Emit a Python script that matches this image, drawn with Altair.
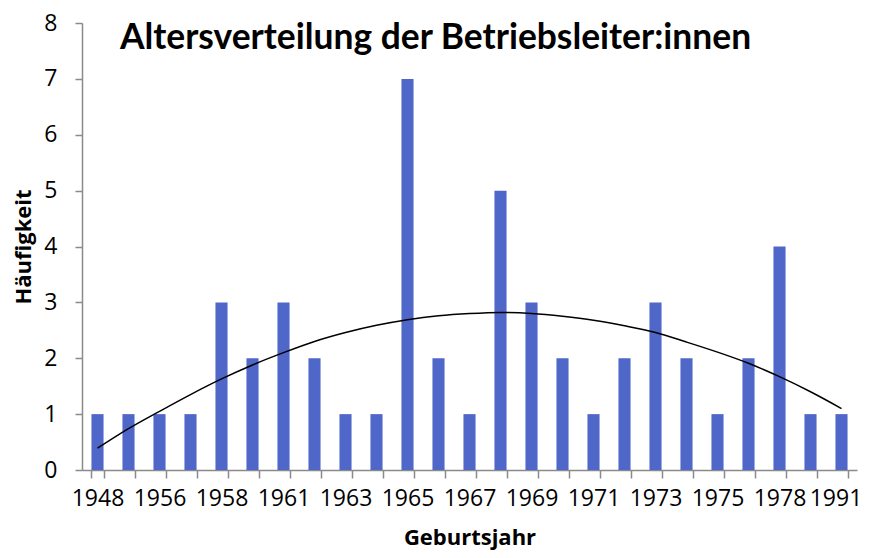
import altair as alt
import pandas as pd

years = ["1948", "1955", "1956", "1957", "1958", "1960", "1961", "1962", "1963",
         "1964", "1965", "1966", "1967", "1968", "1969", "1970", "1971", "1972",
         "1973", "1974", "1975", "1976", "1978", "1979", "1991"]
counts = [1, 1, 1, 1, 3, 2, 3, 2, 1, 1, 7, 2, 1, 5, 3, 2, 1, 2, 3, 2, 1, 2, 4, 1, 1]
trend = [0.39, 0.74, 1.05, 1.35, 1.63, 1.88, 2.10, 2.30, 2.46, 2.59, 2.69, 2.76,
         2.80, 2.82, 2.80, 2.75, 2.68, 2.58, 2.46, 2.29, 2.11, 1.91, 1.67, 1.40, 1.10]
shown_labels = ["1948", "1956", "1958", "1961", "1963", "1965", "1967", "1969",
                "1971", "1973", "1975", "1978", "1991"]
y_ticks = [0, 1, 2, 3, 4, 5, 6, 7, 8]

df = pd.DataFrame({"year": years, "count": counts, "trend": trend})

label_expr = ("indexof([" + ",".join("'%s'" % s for s in shown_labels)
              + "], datum.value) >= 0 ? datum.label : ''")

x_enc = alt.X(
    "year:N",
    sort=years,
    scale=alt.Scale(paddingInner=0.61, paddingOuter=0.305),
    title="Geburtsjahr",
    axis=alt.Axis(tickBand="extent", labelExpr=label_expr, labelAngle=0,
                  labelOverlap=False, tickSize=8, labelPadding=9,
                  labelOffset={"condition": {"test": "datum.value == '%s'" % years[-1],
                                             "value": -6},
                               "value": 0},
                  titlePadding=17),
)
y_scale = alt.Scale(domain=[0, 8])
y_axis = alt.Axis(values=y_ticks, tickSize=7, labelPadding=18, titlePadding=8)

bars = alt.Chart(df).mark_bar(color="#4F67C8").encode(
    x=x_enc,
    y=alt.Y("count:Q", scale=y_scale, axis=y_axis, title="Häufigkeit"),
)
line = alt.Chart(df).mark_line(color="black", strokeWidth=1.5,
                               interpolate="monotone").encode(
    x=x_enc,
    y=alt.Y("trend:Q", scale=y_scale, axis=y_axis, title="Häufigkeit"),
)

chart = alt.layer(bars, line).properties(
    width=775,
    height=447,
    autosize=alt.AutoSizeParams(type="none"),
    padding={"left": 74, "top": 15, "right": 4, "bottom": 80},
    title=alt.TitleParams(
        "Altersverteilung der Betriebsleiter:innen",
        font="Lato", fontSize=35.4, fontWeight="bold", color="black",
        anchor="middle", frame="group", baseline="alphabetic",
        offset=-72, dx=-34,
    ),
).configure_view(stroke=None).configure_axis(
    grid=False,
    domainColor="#8a8a8a", tickColor="#8a8a8a", domainWidth=1.5, tickWidth=1.5,
    labelColor="black", labelFont="Open Sans", labelFontSize=23,
    titleColor="black", titleFont="Open Sans", titleFontSize=22, titleFontWeight="bold",
)

chart.save("out.html", embed_options={"renderer": "svg", "actions": False})
